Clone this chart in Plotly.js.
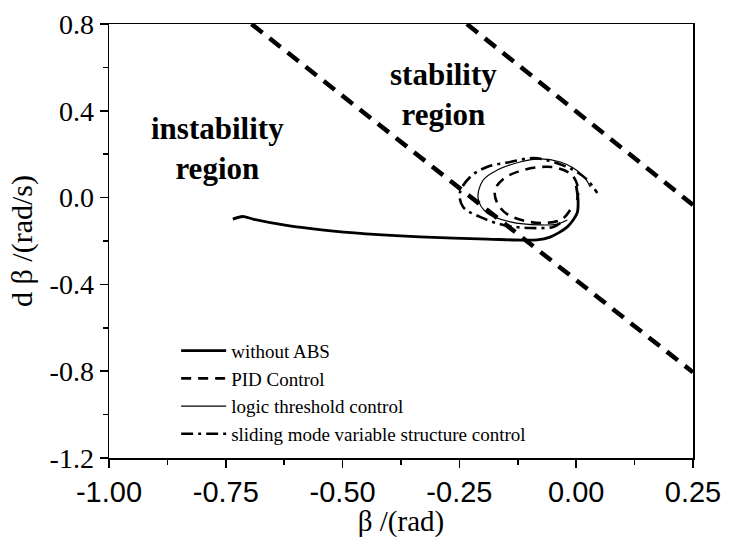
<!DOCTYPE html>
<html>
<head>
<meta charset="utf-8">
<script src="https://cdn.plot.ly/plotly-3.0.1.min.js"></script>
<style>html,body{margin:0;padding:0;background:#fff;}#chart{width:731px;height:538px;}</style>
</head>
<body>
<div id="chart"></div>
<script>
// Stability boundary lines
const boundary1X = [-0.695, 0.25];
const boundary1Y = [0.8, -0.805];
const boundary2X = [-0.234, 0.25];
const boundary2Y = [0.8, -0.034];

// without ABS
const noAbsX = [-0.735, -0.714, -0.690, -0.620, -0.540, -0.450, -0.334, -0.191, -0.084, -0.056, -0.019, 0.002, 0.004, 0.000];
const noAbsY = [-0.099, -0.087, -0.100, -0.128, -0.150, -0.167, -0.181, -0.191, -0.195, -0.182, -0.135, -0.071, -0.011, 0.054];

// PID control
const pidX = [-0.013, -0.030, -0.066, -0.109, -0.148, -0.169, -0.174, -0.156, -0.120, -0.077, -0.039, -0.009, 0.004, 0.002];
const pidY = [-0.057, -0.099, -0.117, -0.108, -0.076, -0.025, 0.035, 0.086, 0.123, 0.141, 0.136, 0.104, 0.044, -0.011];

// logic threshold control
const logicX = [-0.019, -0.041, -0.077, -0.141, -0.191, -0.210, -0.199, -0.169, -0.120, -0.077, -0.034, -0.006, 0.019, 0.030];
const logicY = [-0.103, -0.122, -0.126, -0.112, -0.071, -0.002, 0.081, 0.127, 0.164, 0.178, 0.164, 0.136, 0.090, 0.049];

// sliding mode variable structure control
const smcX = [-0.034, -0.049, -0.099, -0.156, -0.206, -0.242, -0.249, -0.227, -0.191, -0.141, -0.092, -0.049, -0.006, 0.024, 0.045];
const smcY = [-0.117, -0.135, -0.140, -0.126, -0.089, -0.043, 0.021, 0.095, 0.141, 0.164, 0.182, 0.164, 0.127, 0.081, 0.021];

const seriesNames = ["without ABS", "PID Control", "logic threshold control", "sliding mode variable structure control"];

const xTickVals = [-1.0, -0.75, -0.5, -0.25, 0.0, 0.25];
const xTickText = ["-1.00", "-0.75", "-0.50", "-0.25", "0.00", "0.25"];
const yTickVals = [-1.2, -0.8, -0.4, 0.0, 0.4, 0.8];
const yTickText = ["-1.2", "-0.8", "-0.4", "0.0", "0.4", "0.8"];

const serif = "Liberation Serif, Times New Roman, serif";
const sans = "Liberation Sans, Arial, sans-serif";

const traces = [
  {x: boundary1X, y: boundary1Y, mode: "lines", showlegend: false, hoverinfo: "skip",
   line: {color: "#000", width: 4.5, dash: "14px,9px"}},
  {x: boundary2X, y: boundary2Y, mode: "lines", showlegend: false, hoverinfo: "skip",
   line: {color: "#000", width: 4.5, dash: "14px,9px"}},
  {x: noAbsX, y: noAbsY, mode: "lines", name: seriesNames[0],
   line: {color: "#000", width: 2.8, shape: "spline", smoothing: 0.8}},
  {x: pidX, y: pidY, mode: "lines", name: seriesNames[1],
   line: {color: "#000", width: 2.6, dash: "10px,7px", shape: "spline", smoothing: 1}},
  {x: logicX, y: logicY, mode: "lines", name: seriesNames[2],
   line: {color: "#000", width: 1.2, shape: "spline", smoothing: 1}},
  {x: smcX, y: smcY, mode: "lines", name: seriesNames[3],
   line: {color: "#000", width: 2.6, dash: "12px,5px,3px,5px", shape: "spline", smoothing: 1}}
];

const layout = {
  width: 731, height: 538,
  margin: {l: 109, r: 38, t: 24, b: 80, pad: 0},
  paper_bgcolor: "#fff", plot_bgcolor: "#fff",
  showlegend: true,
  legend: {x: 0.115, y: 0.012, xanchor: "left", yanchor: "bottom",
    bgcolor: "rgba(0,0,0,0)", borderwidth: 0,
    font: {family: serif, size: 19, color: "#000"},
    itemwidth: 45, tracegroupgap: 0},
  xaxis: {
    range: [-1.0, 0.25], showgrid: false, zeroline: false,
    showline: true, linecolor: "#000", linewidth: 1.5, mirror: true,
    ticks: "outside", ticklen: 8, tickwidth: 1.5, tickcolor: "#000",
    tickmode: "array", tickvals: xTickVals, ticktext: xTickText,
    tickfont: {family: sans, size: 29, color: "#000"},
    minor: {dtick: 0.125, ticks: "outside", ticklen: 5, tickwidth: 1.5, tickcolor: "#000", showgrid: false},
    title: {text: "β /(rad)", font: {family: serif, size: 29, color: "#000"}, standoff: 6}
  },
  yaxis: {
    range: [-1.2, 0.8], showgrid: false, zeroline: false,
    showline: true, linecolor: "#000", linewidth: 1.5, mirror: true,
    ticks: "outside", ticklen: 8, tickwidth: 1.5, tickcolor: "#000",
    tickmode: "array", tickvals: yTickVals, ticktext: yTickText,
    tickfont: {family: serif, size: 28, color: "#000"},
    minor: {dtick: 0.2, ticks: "outside", ticklen: 5, tickwidth: 1.5, tickcolor: "#000", showgrid: false},
    title: {text: "d β /(rad/s)", font: {family: serif, size: 30, color: "#000"}, standoff: 8}
  },
  annotations: [
    {x: -0.767, y: 0.224, xref: "x", yref: "y", text: "<b>instability</b><br><b>region</b>", showarrow: false,
     font: {family: serif, size: 31, color: "#000"}, align: "center"},
    {x: -0.285, y: 0.477, xref: "x", yref: "y", text: "<b>stability</b><br><b>region</b>", showarrow: false,
     font: {family: serif, size: 31, color: "#000"}, align: "center"}
  ]
};

Plotly.newPlot("chart", traces, layout, {displayModeBar: false, staticPlot: true});
</script>
</body>
</html>
